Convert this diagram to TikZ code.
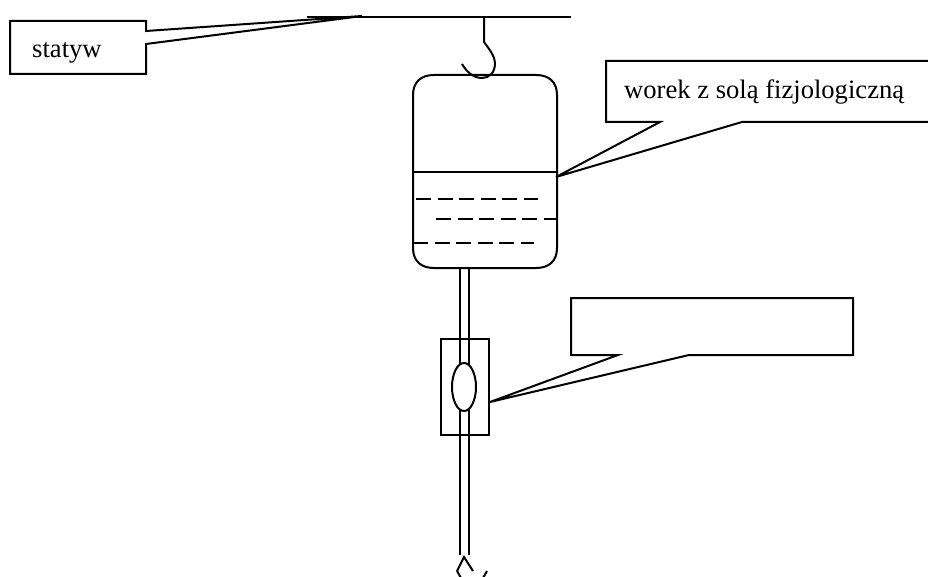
\documentclass[tikz,border=0pt]{standalone}
\usetikzlibrary{shapes.geometric}
\usepackage{fontspec}
\setmainfont{Liberation Serif}
\tikzset{
  ln/.style={draw=black,line width=2pt,line join=miter},
  dash ln/.style={draw=black,line width=2pt,dash pattern=on 15pt off 6.6pt},
  lab/.style={font=\fontsize{26.6}{30}\selectfont,inner sep=0pt,anchor=base west,text=black}
}
\begin{document}
\begin{tikzpicture}[x=1pt,y=-1pt]
\useasboundingbox[fill=white] (0,0) rectangle (928,577);
% stand
\draw[ln] (307,17) -- (571,17);
\draw[ln] (484,17) -- (484,42) .. controls (490,50) and (495,57) .. (495,63) .. controls (495,73) and (489,78) .. (482,78) .. controls (473,78) and (466,71) .. (462,64);
% bag
\draw[ln] (413,95) .. controls (413,82) and (421,75) .. (434,75) -- (536,75) .. controls (549,75) and (557,82) .. (557,95)
  -- (557,248) .. controls (557,261) and (549,268) .. (536,268) -- (434,268) .. controls (421,268) and (413,261) .. (413,248) -- cycle;
\draw[ln] (413,172) -- (557,172);
\draw[dash ln] (416,199) -- (538,199);
\draw[dash ln] (436,219) -- (557,219);
\draw[dash ln] (413,243) -- (534,243);
% tube
\draw[ln] (460,268) -- (460,555);
\draw[ln] (469,268) -- (469,555);
% drip chamber
\draw[ln] (441,339) rectangle (489,435);
\node[ellipse,draw=black,line width=2pt,fill=white,minimum width=24pt,minimum height=48pt,inner sep=0pt] (chamber) at (464,387) {};
% needle
\draw[ln] (457,571) -- (464,557) -- (473,571);
\draw[ln] (457,571) -- (461,578);
\draw[ln] (487,571) -- (483,578);
% callouts
\coordinate (standtip) at (362,16);
\coordinate (bagtip) at (556,177);
\coordinate (chambertip) at (490,402);
\draw[ln] (10,21) -- (146,21) -- (146,31) -- (standtip) -- (146,44) -- (146,74) -- (10,74) -- cycle;
\draw[ln] (932,61) -- (606,61) -- (606,122) -- (660,122) -- (bagtip) -- (742,122) -- (932,122);
\draw[ln] (571,298) -- (853,298) -- (853,355) -- (689,355) -- (chambertip) -- (618,355) -- (571,355) -- cycle;
\node[lab] (statyw) at (32,58) {statyw};
\node[lab] (worek) at (624,99) {worek z solą fizjologiczną};
\end{tikzpicture}
\end{document}
